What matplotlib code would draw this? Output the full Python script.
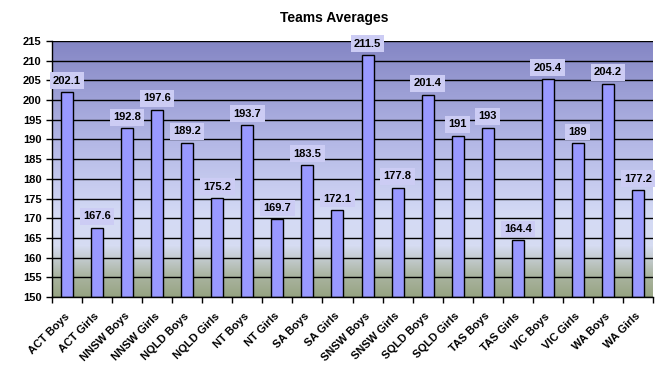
import matplotlib
matplotlib.use("Agg")
import matplotlib.pyplot as plt
import numpy as np
from matplotlib.colors import LinearSegmentedColormap
import matplotlib.transforms as mtransforms

plt.rcParams['font.family'] = ['Liberation Sans', 'DejaVu Sans']

categories = ["ACT Boys", "ACT Girls", "NNSW Boys", "NNSW Girls", "NQLD Boys", "NQLD Girls",
              "NT Boys", "NT Girls", "SA Boys", "SA Girls", "SNSW Boys", "SNSW Girls",
              "SQLD Boys", "SQLD Girls", "TAS Boys", "TAS Girls", "VIC Boys", "VIC Girls",
              "WA Boys", "WA Girls"]
values = [202.1, 167.6, 192.8, 197.6, 189.2, 175.2, 193.7, 169.7, 183.5, 172.1,
          211.5, 177.8, 201.4, 191, 193, 164.4, 205.4, 189, 204.2, 177.2]
yticks = list(range(150, 216, 5))

fig = plt.figure(figsize=(6.68, 3.78), dpi=100)
ax = fig.add_axes([52/668, 1-297/378, (653-52)/668, (297-41)/378])

# gradient background
cmap = LinearSegmentedColormap.from_list("bg", [
    (0.0, "#97a483"), (0.08, "#aab4a0"), (0.2, "#d6dcf2"), (0.32, "#d4daf5"),
    (0.6, "#b4b8e6"), (1.0, "#8486c4")])
grad = np.linspace(0, 1, 256).reshape(-1, 1)
ax.imshow(grad, cmap=cmap, aspect='auto', extent=[0, 1, 0, 1], origin='lower',
          transform=ax.transAxes, zorder=0)

x = np.arange(len(categories))
ax.set_xlim(-0.5, len(categories) - 0.5)
ax.set_ylim(150, 215)
ax.set_yticks(yticks)
ax.yaxis.grid(True, color='black', linewidth=1.0, zorder=1)
ax.set_axisbelow(True)
bars = ax.bar(x, [v - 150 for v in values], bottom=150, width=0.4, color='#9999ff',
              edgecolor='black', linewidth=1.0, zorder=3)

for xi, v in zip(x, values):
    ax.annotate(f"{v:g}", (xi, v), xytext=(0, 4.5), textcoords='offset points',
                ha='center', va='bottom', fontsize=8, fontweight='bold', zorder=5,
                bbox=dict(boxstyle='square,pad=0.3', fc='#ccccf4', ec='none'))

ax.set_xticks(x)
ax.set_xticks(np.arange(-0.5, len(categories), 1), minor=True)
ax.set_xticklabels(categories, rotation=45, ha='right', va='top', rotation_mode='anchor',
                   fontsize=8, fontweight='bold')
ax.tick_params(axis='x', which='major', length=0, pad=10)
ax.tick_params(axis='x', which='minor', length=4, width=1, color='black')
ax.tick_params(axis='y', length=4, width=1)
offset = mtransforms.ScaledTranslation(-3/100, 0, fig.dpi_scale_trans)
for lbl in ax.get_xticklabels():
    lbl.set_transform(lbl.get_transform() + offset)
for lbl in ax.get_yticklabels():
    lbl.set_fontweight('bold')
    lbl.set_fontsize(8)
for s in ['top', 'right']:
    ax.spines[s].set_visible(False)
for s in ['left', 'bottom']:
    ax.spines[s].set_linewidth(1.0)
    ax.spines[s].set_zorder(4)

fig.text(0.5, 1-18/378, "Teams Averages", ha='center', va='center', fontsize=10, fontweight='bold')
fig.savefig("out.png", dpi=100)
